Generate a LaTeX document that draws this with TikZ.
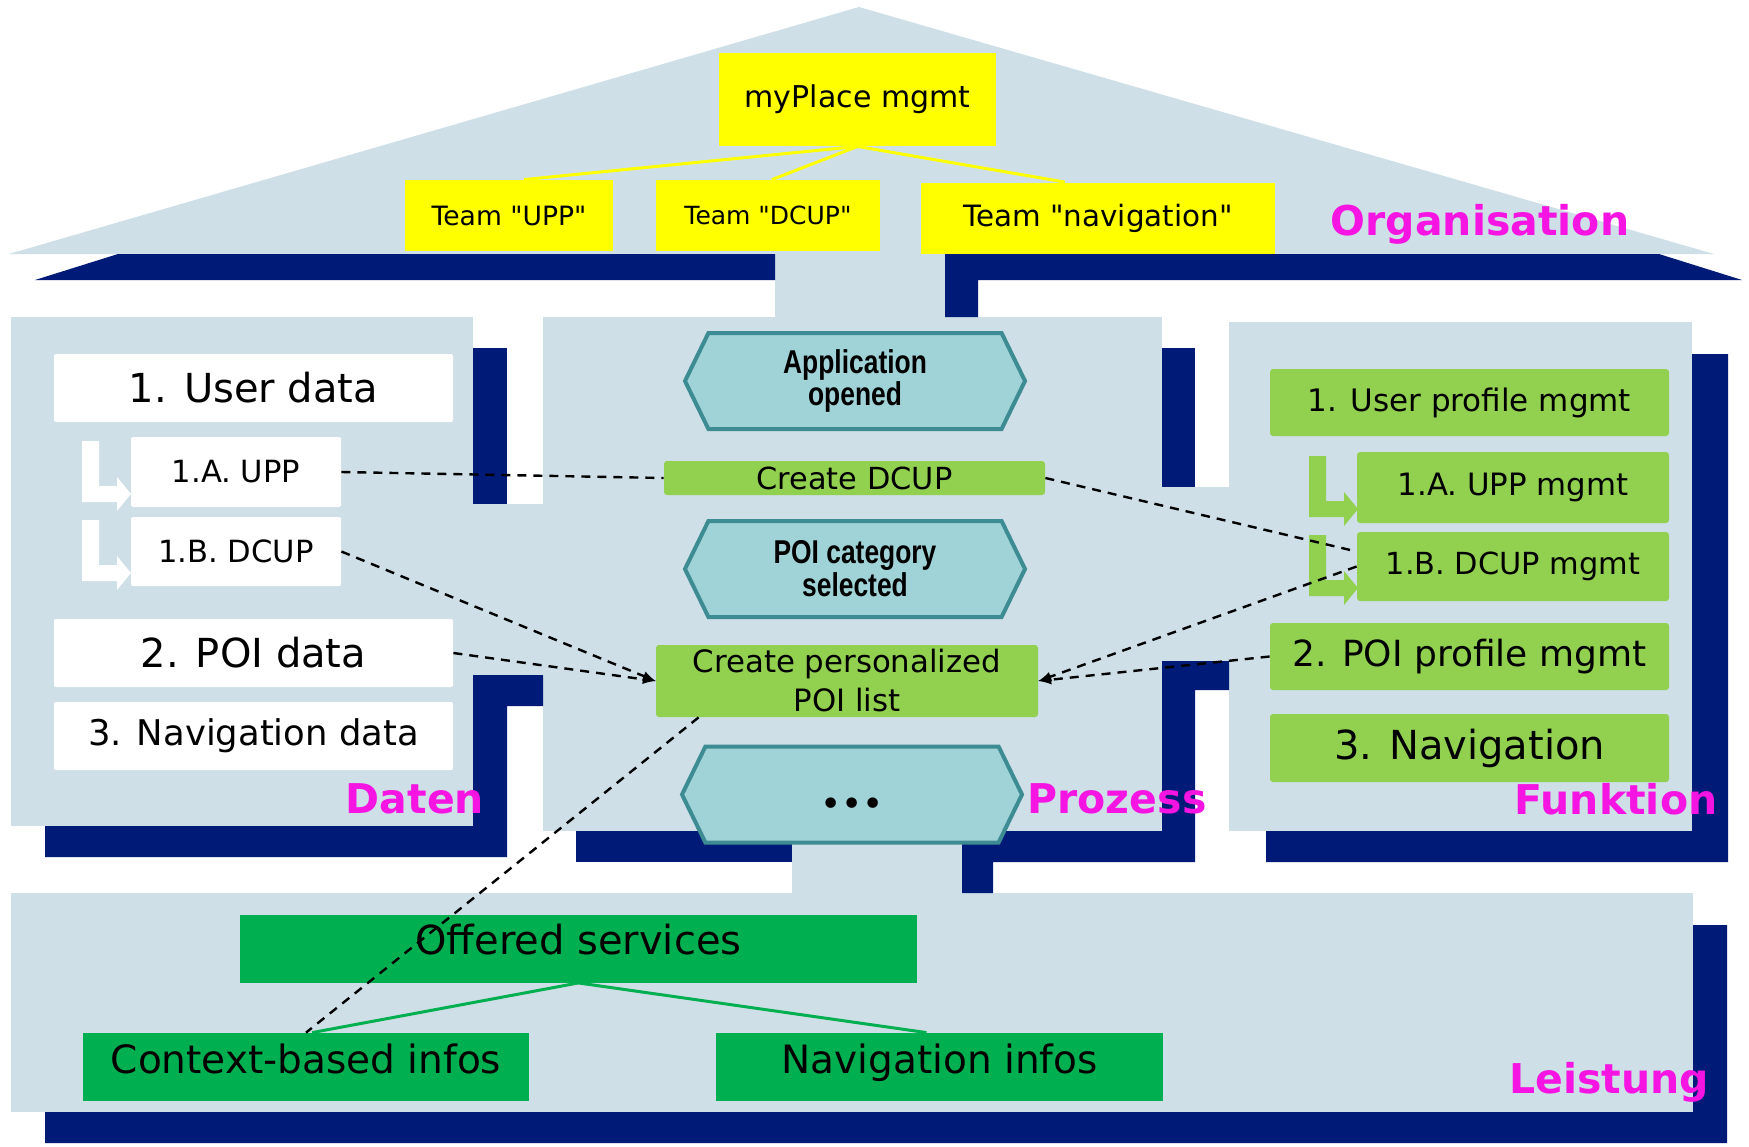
\documentclass[tikz,border=0pt]{standalone}
\usepackage{fontspec}
\setmainfont{DejaVu Sans}
\newfontfamily\quotefont[Ligatures=TeXOff]{DejaVu Sans}
\newfontfamily\hexfont[FakeStretch=0.8]{Liberation Sans}
\usetikzlibrary{shapes.symbols, arrows}

\definecolor{haus}{RGB}{206,223,231}
\definecolor{navy}{RGB}{0,26,120}
\definecolor{gelb}{RGB}{255,255,0}
\definecolor{hgruen}{RGB}{146,208,80}
\definecolor{dgruen}{RGB}{0,176,80}
\definecolor{hexfill}{RGB}{160,211,215}
\definecolor{hexrand}{RGB}{62,140,147}
\definecolor{sichtfarbe}{RGB}{245,20,225}
\newcommand{\fs}[1]{\fontsize{#1}{#1}\selectfont}
\newcommand{\qt}{{\quotefont"}}

\begin{document}
\begin{tikzpicture}[x=0.5pt, y=-0.5pt, >=latex]
        \tikzstyle{weiss}    = [fill=white, rounded corners=1pt, inner sep=0pt]
        \tikzstyle{team}     = [fill=gelb, inner sep=0pt, minimum height=35.5pt]
        \tikzstyle{fkt}      = [fill=hgruen, rounded corners=1.5pt, inner sep=0pt]
        \tikzstyle{leist}    = [fill=dgruen, inner sep=0pt, minimum height=34pt, text height=0.75em, text depth=0.15em, font=\fs{19.5}]
        \tikzstyle{ereignis} = [signal, signal to=east and west, signal pointer angle=128, draw=hexrand,
                                line width=2pt, fill=hexfill, minimum width=170pt, minimum height=48pt,
                                inner sep=0pt, align=center, font=\hexfont\bfseries\fontsize{16.5}{14}\selectfont]
        \tikzstyle{sicht}    = [text=sichtfarbe, inner sep=0pt, font=\bfseries\fs{20.5}]
        \tikzstyle{lnk}      = [dash pattern=on 4.5pt off 3.5pt, line width=1.2pt]
        \tikzstyle{baum}     = [line width=1.5pt]

        \useasboundingbox (0,0) rectangle (1749,1146);
        \fill[white] (0,0) rectangle (1749,1146);

        % Hausflaechen.
        \fill[haus] (9,254) -- (859,7) -- (1714,254) -- cycle;
        \fill[haus] (775,254) rectangle (945,317);
        \fill[haus] (11,317) rectangle (473,826);
        \fill[haus] (473,504) rectangle (543,675);
        \fill[haus] (543,317) rectangle (1162,831);
        \fill[haus] (1162,487) rectangle (1229,661);
        \fill[haus] (1229,322) rectangle (1692,831);
        \fill[haus] (792,831) rectangle (962,893);
        \fill[haus] (11,893) rectangle (1693,1112);

        % Schatten.
        \fill[navy] (118,254) -- (775,254) -- (775,280) -- (35,280) -- cycle;
        \fill[navy] (945,254) -- (1659,254) -- (1742,280) -- (978,280) -- (978,317) -- (945,317) -- cycle;
        \fill[navy] (473,348) rectangle (507,504);
        \fill[navy] (473,675) -- (543,675) -- (543,706) -- (507,706) -- (507,857) -- (45,857) -- (45,826) -- (473,826) -- cycle;
        \fill[navy] (1162,348) rectangle (1195,487);
        \fill[navy] (576,831) rectangle (792,862);
        \fill[navy] (1162,661) -- (1229,661) -- (1229,690) -- (1195,690) -- (1195,862) -- (993,862)
                    -- (993,893) -- (962,893) -- (962,831) -- (1162,831) -- cycle;
        \fill[navy] (1692,354) -- (1728,354) -- (1728,862) -- (1266,862) -- (1266,831) -- (1692,831) -- cycle;
        \fill[navy] (1693,925) -- (1727,925) -- (1727,1143) -- (45,1143) -- (45,1112) -- (1693,1112) -- cycle;

        % Organisation.
        \node[fill=gelb, inner sep=0pt, minimum width=138.5pt, minimum height=46.5pt, font=\fs{15}] (myplace) at (857.5,99.5) {myPlace mgmt};
        \node[team, minimum width=104pt, font=\fs{13.3}] (tupp)  at (509,215.5) {Team \qt UPP\qt};
        \node[team, minimum width=112pt, font=\fs{12.5}] (tdcup) at (768,215.5) {Team \qt DCUP\qt};
        \node[team, minimum width=177pt, font=\fs{14.7}] (tnav)  at (1098,218)  {Team \qt navigation\qt};

        % Daten.
        \node[weiss, minimum width=199.5pt, minimum height=34pt,   font=\fs{20}]   (userdata) at (253.5,388) {1. User data};
        \node[weiss, minimum width=105pt,   minimum height=35pt,   font=\fs{15.3}] (upp)      at (236,472)   {1.A. UPP};
        \node[weiss, minimum width=105pt,   minimum height=34.5pt, font=\fs{15.3}] (dcup)     at (236,551.5) {1.B. DCUP};
        \node[weiss, minimum width=199.5pt, minimum height=34pt,   font=\fs{20}]   (poidata)  at (253.5,653) {2. POI data};
        \node[weiss, minimum width=199.5pt, minimum height=34pt,   font=\fs{17.7}] (navdata)  at (253.5,736) {3. Navigation data};

        % Prozess.
        \node[ereignis] (appopen) at (855,381)   {Application\\opened};
        \node[fkt, minimum width=190.5pt, minimum height=17pt, font=\fs{15.2}] (createdcup) at (854.5,478) {Create DCUP};
        \node[ereignis] (poisel)  at (855,569)   {POI category\\selected};
        \node[fkt, minimum width=191pt, minimum height=36pt, align=center, font=\fontsize{15.4}{19.5}\selectfont] (createlist) at (847,681) {Create personalized\\POI list};
        \node[ereignis, font=\fs{18}] (weiter) at (852,794.5) {\raisebox{-10.75pt}[0pt][0pt]{•••}};

        % Funktion.
        \node[fkt, minimum width=199.5pt, minimum height=33.5pt, font=\fs{15.5}] (userprof) at (1469.5,402.5) {1. User profile mgmt};
        \node[fkt, minimum width=156pt,   minimum height=35.5pt, font=\fs{15.4}] (uppmgmt)  at (1513,487.5)  {1.A. UPP mgmt};
        \node[fkt, minimum width=156pt,   minimum height=34.5pt, font=\fs{15.2}] (dcupmgmt) at (1513,566.5)  {1.B. DCUP mgmt};
        \node[fkt, minimum width=199.5pt, minimum height=33.5pt, font=\fs{18}]   (poimgmt)  at (1469.5,656.5) {2. POI profile mgmt};
        \node[fkt, minimum width=199.5pt, minimum height=34pt,   font=\fs{20}]   (navfunc)  at (1469.5,748)  {3. Navigation};

        % Unterpunkte.
        \foreach \ax/\ay/\farbe in {82/441/white, 82/520/white, 1309/456/hgruen, 1309/535/hgruen}
            \fill[\farbe, shift={(\ax,\ay)}] (0,0) -- (17,0) -- (17,45) -- (35,45) -- (35,36) -- (49,53)
                                             -- (35,70) -- (35,61) -- (0,61) -- cycle;

        % Leistung.
        \node[leist, minimum width=338.5pt, font=\fs{20}] (offered) at (578.5,948.5) {Offered services};
        \node[leist, minimum width=223pt]   (context) at (306,1067)   {Context-based infos};
        \node[leist, minimum width=223.5pt] (navinfo) at (939.5,1067) {Navigation infos};

        % Sichten.
        \node[sicht] (org)  at (1480,224)  {Organisation};
        \node[sicht] (dat)  at (415,799)   {Daten};
        \node[sicht] (proz) at (1117,799)  {Prozess};
        \node[sicht] (fun)  at (1616,799)  {Funktion};
        \node[sicht] (lei)  at (1609,1082) {Leistung};

        % Baumlinien.
        \draw[baum, gelb] (myplace.south) -- ([xshift=7.5pt]tupp.north);
        \draw[baum, gelb] (myplace.south) -- ([xshift=2pt]tdcup.north);
        \draw[baum, gelb] (myplace.south) -- ([xshift=-16.5pt]tnav.north);
        \draw[baum, dgruen] (offered.south) -- ([xshift=3pt]context.north);
        \draw[baum, dgruen] (offered.south) -- ([xshift=-6.5pt]navinfo.north);

        % Zuordnungen.
        \draw[lnk] (upp.east) -- (createdcup.west);
        \draw[lnk, ->] (dcup.east) -- (createlist.west);
        \draw[lnk, ->] (poidata.east) -- (createlist.west);
        \draw[lnk] (createdcup.east) -- ([yshift=7.5pt]dcupmgmt.west);
        \draw[lnk, ->] (dcupmgmt.west) -- (createlist.east);
        \draw[lnk, ->] (poimgmt.west) -- (createlist.east);
        \draw[lnk] ([xshift=21.5pt]createlist.south west) -- (context.north);
    \end{tikzpicture}
\end{document}
